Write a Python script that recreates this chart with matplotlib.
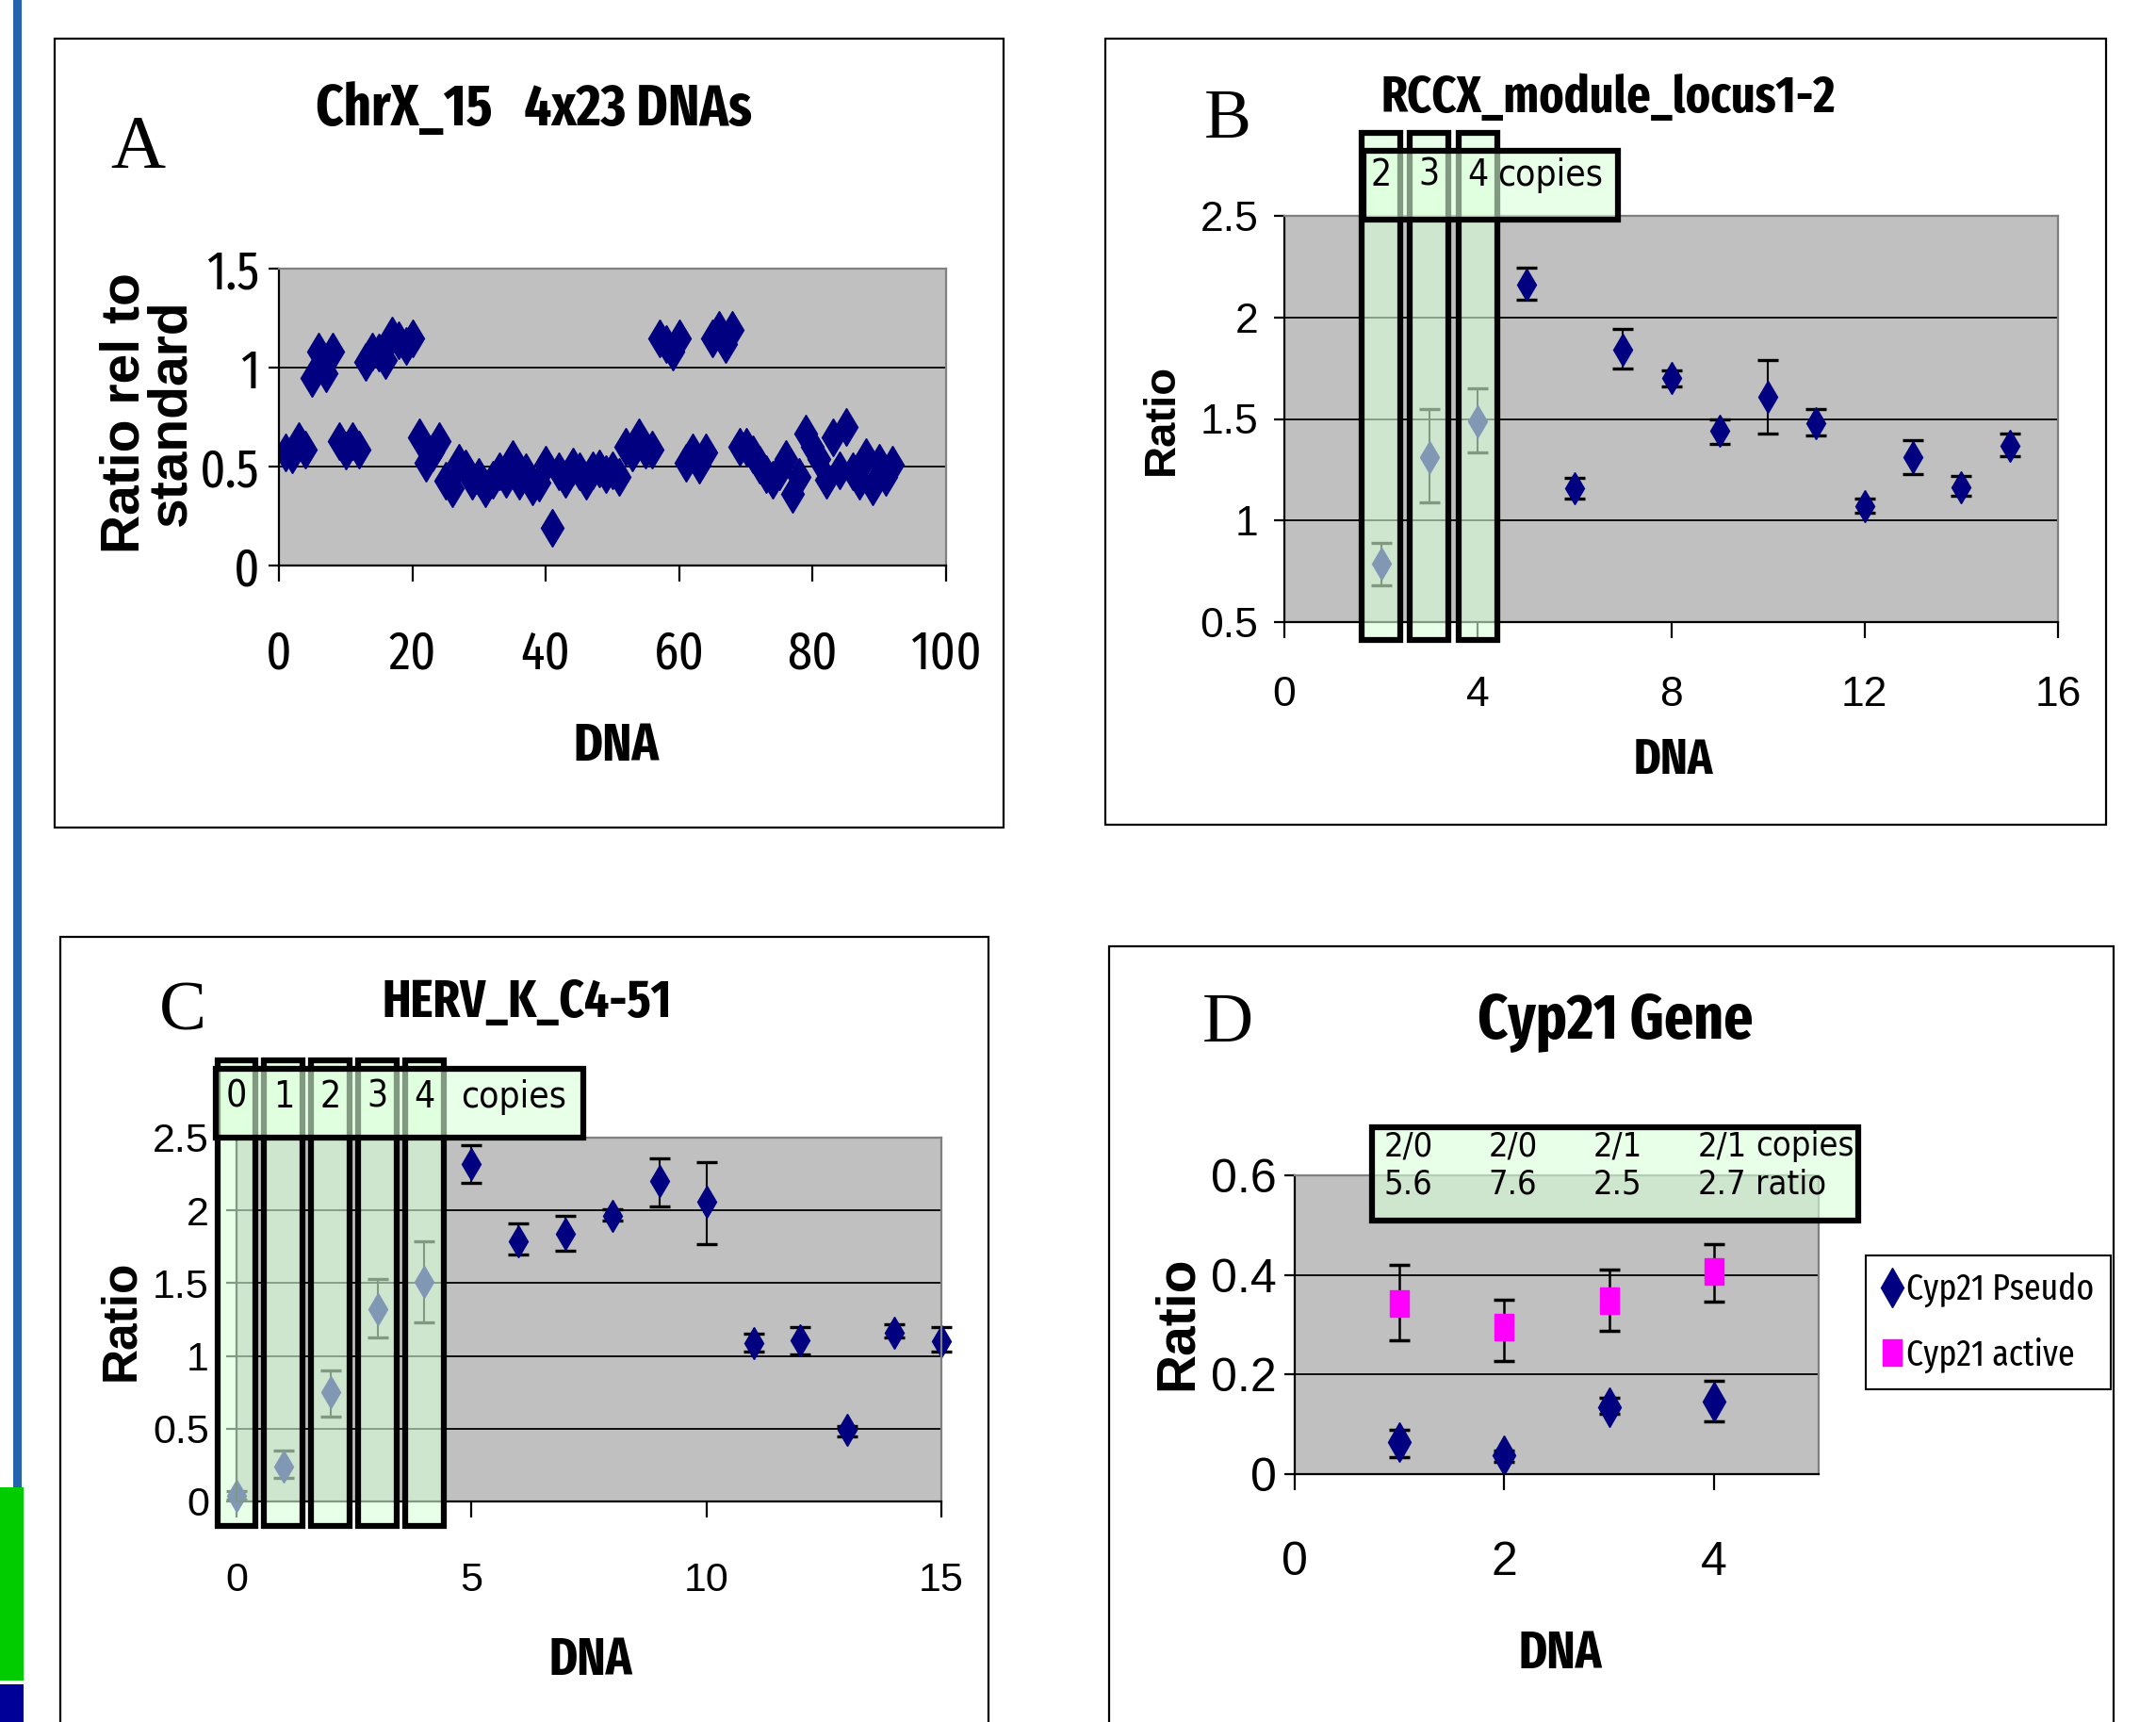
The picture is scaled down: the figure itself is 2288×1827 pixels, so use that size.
import numpy as np
import matplotlib
matplotlib.use('Agg')
import matplotlib.pyplot as plt
from matplotlib.patches import Rectangle
from matplotlib.ticker import FuncFormatter
from matplotlib import font_manager

# ---- data ----
# A: ChrX_15, 4x23 DNAs
a_dna = np.arange(1, 93)
a_ratio = [0.57, 0.56, 0.63, 0.585, 0.95, 1.08, 0.97, 1.08, 0.63, 0.58,
           0.63, 0.585, 1.03, 1.08, 1.075, 1.04, 1.16, 1.14, 1.11, 1.15,
           0.65, 0.52, 0.57, 0.63, 0.43, 0.39, 0.52, 0.49, 0.43, 0.45,
           0.39, 0.435, 0.475, 0.44, 0.54, 0.43, 0.47, 0.40, 0.42, 0.51,
           0.19, 0.475, 0.44, 0.50, 0.475, 0.43, 0.48, 0.49, 0.46, 0.48,
           0.45, 0.60, 0.57, 0.65, 0.585, 0.585, 1.15, 1.12, 1.08, 1.15,
           0.52, 0.57, 0.51, 0.57, 1.15, 1.19, 1.12, 1.19, 0.60, 0.60,
           0.56, 0.51, 0.46, 0.435, 0.475, 0.54, 0.36, 0.45, 0.665, 0.60,
           0.54, 0.435, 0.65, 0.48, 0.70, 0.475, 0.43, 0.55, 0.40, 0.52,
           0.45, 0.51]

# B: RCCX_module_locus1-2
b_dna = list(range(2, 16))
b_ratio = [0.79, 1.31, 1.49, 2.16, 1.16, 1.84, 1.70, 1.44, 1.61, 1.48, 1.07, 1.31, 1.165, 1.37]
b_low = [0.68, 1.09, 1.335, 2.085, 1.11, 1.75, 1.66, 1.375, 1.43, 1.42, 1.04, 1.23, 1.12, 1.315]
b_high = [0.89, 1.55, 1.65, 2.245, 1.21, 1.945, 1.74, 1.50, 1.79, 1.55, 1.11, 1.395, 1.22, 1.43]
b_copy_dna = [2, 3, 4]
b_copy_labels = ['2', '3', '4']

# C: HERV_K_C4-51
c_dna = list(range(0, 16))
c_ratio = [0.04, 0.24, 0.75, 1.32, 1.51, 2.32, 1.79, 1.84, 1.96, 2.20, 2.06, 1.09, 1.11, 0.49, 1.16, 1.10]
c_low = [0.01, 0.16, 0.58, 1.125, 1.23, 2.19, 1.70, 1.72, 1.93, 2.03, 1.77, 1.03, 1.01, 0.45, 1.13, 1.03]
c_high = [0.07, 0.35, 0.90, 1.53, 1.79, 2.45, 1.91, 1.96, 2.01, 2.36, 2.33, 1.15, 1.20, 0.52, 1.22, 1.20]
c_copy_dna = [0, 1, 2, 3, 4]
c_copy_labels = ['0', '1', '2', '3', '4']

# D: Cyp21 Gene
d_dna = [1, 2, 3, 4]
d_pseudo = [0.064, 0.038, 0.134, 0.146]
d_pseudo_low = [0.035, 0.024, 0.122, 0.106]
d_pseudo_high = [0.089, 0.048, 0.154, 0.187]
d_active = [0.342, 0.296, 0.349, 0.407]
d_active_low = [0.269, 0.228, 0.287, 0.346]
d_active_high = [0.42, 0.351, 0.41, 0.461]
d_copies = ['2/0', '2/0', '2/1', '2/1']
d_ratio_txt = ['5.6', '7.6', '2.5', '2.7']

NAVY = '#000080'
MAGENTA = '#ff00ff'
GRAY = '#c0c0c0'
BOXFILL = (0.85, 1.0, 0.85, 0.6)

_names = {f.name for f in font_manager.fontManager.ttflist}
COND = next((n for n in ['Fira Sans Extra Condensed', 'IBM Plex Sans Condensed', 'Barlow Condensed']
             if n in _names), 'DejaVu Sans')
SANS = 'Liberation Sans'
SERIF = 'Liberation Serif'
BOXFONT = dict(fontfamily='DejaVu Sans', fontstretch='condensed', fontsize=28)

W, H = 2288, 1827
fig = plt.figure(figsize=(W / 100, H / 100), dpi=100)


def frac(x0, y0, x1, y1):
    # pixel box -> figure fraction [left, bottom, width, height]
    return [x0 / W, 1 - y1 / H, (x1 - x0) / W, (y1 - y0) / H]


def errs(y, lo, hi):
    y = np.asarray(y)
    return [y - np.asarray(lo), np.asarray(hi) - y]


def style(ax, xlim, xticks, ylim, yticks, font, size, xpad, ypad):
    ax.set_facecolor(GRAY)
    ax.set_xlim(*xlim)
    ax.set_ylim(*ylim)
    ax.set_xticks(xticks)
    ax.set_yticks(yticks)
    fmt = FuncFormatter(lambda v, p: f'{v:g}')
    ax.xaxis.set_major_formatter(fmt)
    ax.yaxis.set_major_formatter(fmt)
    ax.grid(axis='y', color='black', lw=1.3)
    ax.set_axisbelow(True)
    for s in ['left', 'bottom']:
        ax.spines[s].set_color('black')
        ax.spines[s].set_linewidth(1.6)
    for s in ['top', 'right']:
        ax.spines[s].set_color('#808080')
        ax.spines[s].set_linewidth(1.6)
    ax.tick_params(axis='x', direction='out', length=12, width=1.6, pad=xpad,
                   labelsize=size, labelfontfamily=font)
    ax.tick_params(axis='y', direction='out', length=8, width=1.6, pad=ypad,
                   labelsize=size, labelfontfamily=font)


def labels(ax, xpos, xsize, ylab, ypos, ysize, spacing=1.0):
    ax.set_xlabel('DNA', fontsize=xsize, fontfamily=COND, fontweight='bold', va='center')
    ax.xaxis.set_label_coords(*xpos)
    ax.set_ylabel(ylab, fontsize=ysize, fontfamily=SANS, fontweight='bold',
                  va='center', ha='center', linespacing=spacing)
    ax.yaxis.set_label_coords(*ypos)


def copy_boxes(ax, centers, texts, col_w, col_lo, col_hi, head_x, head_y, text_y):
    for c in centers:
        ax.add_patch(Rectangle((c - col_w / 2, col_lo), col_w, col_hi - col_lo, fc=BOXFILL,
                               ec='black', lw=4.5, clip_on=False, zorder=6))
    ax.add_patch(Rectangle((head_x[0], head_y[0]), head_x[1] - head_x[0], head_y[1] - head_y[0],
                           fc=BOXFILL, ec='black', lw=4.5, clip_on=False, zorder=7))
    for c, t in zip(centers, texts):
        ax.text(c, text_y, t, ha='center', va='center', zorder=8, clip_on=False, **BOXFONT)


# ---- panel frames and left stripes ----
fig.patches.append(Rectangle((14 / W, 1 - 1578 / H), 9 / W, 1578 / H, transform=fig.transFigure,
                             fc='#2463ae', ec='none'))
fig.patches.append(Rectangle((0, 1 - 1783 / H), 25 / W, 205 / H, transform=fig.transFigure,
                             fc='#00cc00', ec='none'))
fig.patches.append(Rectangle((0, 0), 25 / W, 40 / H, transform=fig.transFigure,
                             fc='#000099', ec='none'))
for box in [(58, 41, 1065, 878), (1173, 41, 2235, 875), (64, 994, 1049, 1845), (1177, 1004, 2243, 1845)]:
    l, b, w, h = frac(*box)
    fig.patches.append(Rectangle((l, b), w, h, transform=fig.transFigure,
                                 fc='none', ec='black', lw=1.6))

# ---- A ----
axA = fig.add_axes(frac(296, 285, 1004, 600))
style(axA, (0, 100), range(0, 101, 20), (0, 1.5), [0, 0.5, 1, 1.5], COND, 41, 36, 7)
axA.plot(a_dna, a_ratio, ls='none', marker='d', ms=20, color=NAVY, mec=NAVY)
labels(axA, (0.506, -0.61), 41, 'Ratio rel to\nstandard', (-0.196, 0.514), 41, spacing=0.88)
fig.text(566 / W, 1 - 117 / H, 'ChrX_15   4x23 DNAs', ha='center', va='center',
         fontsize=44, fontweight='bold', fontfamily=COND)
fig.text(146 / W, 1 - 158 / H, 'A', ha='center', va='center', fontsize=58, fontfamily=SERIF)

# ---- B ----
axB = fig.add_axes(frac(1363, 229, 2184, 660))
style(axB, (0, 16), range(0, 17, 4), (0.5, 2.5), [0.5, 1, 1.5, 2, 2.5], SANS, 32, 29, 12)
axB.errorbar(b_dna, b_ratio, yerr=errs(b_ratio, b_low, b_high), fmt='none',
             ecolor='black', elinewidth=1.5, capsize=8, capthick=2.4)
axB.plot(b_dna, b_ratio, ls='none', marker='d', ms=17, color=NAVY, mec=NAVY)
copy_boxes(axB, b_copy_dna, b_copy_labels, 0.8, 0.41, 2.91, (1.64, 6.9), (2.48, 2.82), 2.70)
axB.text(4.4, 2.70, 'copies', ha='left', va='center', zorder=8, **BOXFONT)
labels(axB, (0.503, -0.341), 38, 'Ratio', (-0.158, 0.499), 34)
fig.text(1707 / W, 1 - 105 / H, 'RCCX_module_locus1-2', ha='center', va='center',
         fontsize=39, fontweight='bold', fontfamily=COND)
fig.text(1303 / W, 1 - 128 / H, 'B', ha='center', va='center', fontsize=54, fontfamily=SERIF)

# ---- C ----
axC = fig.add_axes(frac(251, 1207, 999, 1593))
style(axC, (0, 15), range(0, 16, 5), (0, 2.5), [0, 0.5, 1, 1.5, 2, 2.5], SANS, 31, 34, 13)
axC.errorbar(c_dna, c_ratio, yerr=errs(c_ratio, c_low, c_high), fmt='none',
             ecolor='black', elinewidth=1.5, capsize=8, capthick=2.4, clip_on=False)
axC.plot(c_dna, c_ratio, ls='none', marker='d', ms=17, color=NAVY, mec=NAVY, clip_on=False)
copy_boxes(axC, c_copy_dna, c_copy_labels, 0.82, -0.17, 3.03, (-0.44, 7.37), (2.5, 2.97), 2.78)
axC.text(4.77, 2.78, 'copies', ha='left', va='center', zorder=8, **BOXFONT)
labels(axC, (0.503, -0.438), 40, 'Ratio', (-0.164, 0.497), 37)
fig.text(559 / W, 1 - 1064 / H, 'HERV_K_C4-51', ha='center', va='center',
         fontsize=40, fontweight='bold', fontfamily=COND)
fig.text(194 / W, 1 - 1075 / H, 'C', ha='center', va='center', fontsize=54, fontfamily=SERIF)

# ---- D ----
axD = fig.add_axes(frac(1374, 1247, 1930, 1564))
style(axD, (0, 5), [0, 2, 4], (0, 0.6), [0, 0.2, 0.4, 0.6], SANS, 36, 39, 6)
rect = [(-0.36, -0.5), (0.36, -0.5), (0.36, 0.5), (-0.36, 0.5), (-0.36, -0.5)]
axD.errorbar(d_dna, d_pseudo, yerr=errs(d_pseudo, d_pseudo_low, d_pseudo_high), fmt='none',
             ecolor='black', elinewidth=1.8, capsize=8, capthick=2.5)
axD.errorbar(d_dna, d_active, yerr=errs(d_active, d_active_low, d_active_high), fmt='none',
             ecolor='black', elinewidth=1.8, capsize=8, capthick=2.5)
axD.plot(d_dna, d_pseudo, ls='none', marker='d', ms=21, color=NAVY, mec=NAVY, label='Cyp21 Pseudo')
axD.plot(d_dna, d_active, ls='none', marker=rect, ms=20, color=MAGENTA, mec=MAGENTA, label='Cyp21 active')
axD.add_patch(Rectangle((0.74, 0.509), 4.64, 0.188, fc=BOXFILL, ec='black', lw=4.5,
                        clip_on=False, zorder=7))
dfont = dict(BOXFONT, fontsize=26)
for x, cp, rt in zip(d_dna, d_copies, d_ratio_txt):
    axD.text(x - 0.15, 0.658, cp, ha='left', va='center', zorder=8, clip_on=False, **dfont)
    axD.text(x - 0.15, 0.582, rt, ha='left', va='center', zorder=8, clip_on=False, **dfont)
axD.text(d_dna[-1] + 0.4, 0.658, 'copies', ha='left', va='center', zorder=8, clip_on=False, **dfont)
axD.text(d_dna[-1] + 0.4, 0.582, 'ratio', ha='left', va='center', zorder=8, clip_on=False, **dfont)
leg = axD.legend(loc='upper left', bbox_to_anchor=(1980 / W, 1 - 1332 / H),
                 bbox_transform=fig.transFigure, borderaxespad=0, frameon=True, fancybox=False,
                 edgecolor='black', framealpha=1, prop={'family': COND, 'size': 28},
                 handletextpad=0.1, handlelength=0.55, labelspacing=0.8, borderpad=0.45)
leg.get_frame().set_linewidth(1.5)
labels(axD, (0.507, -0.603), 40, 'Ratio', (-0.223, 0.505), 41)
fig.text(1714 / W, 1 - 1083 / H, 'Cyp21 Gene', ha='center', va='center',
         fontsize=48, fontweight='bold', fontfamily=COND)
fig.text(1303 / W, 1 - 1087 / H, 'D', ha='center', va='center', fontsize=54, fontfamily=SERIF)

fig.savefig('out.png', dpi=100, facecolor='white')
